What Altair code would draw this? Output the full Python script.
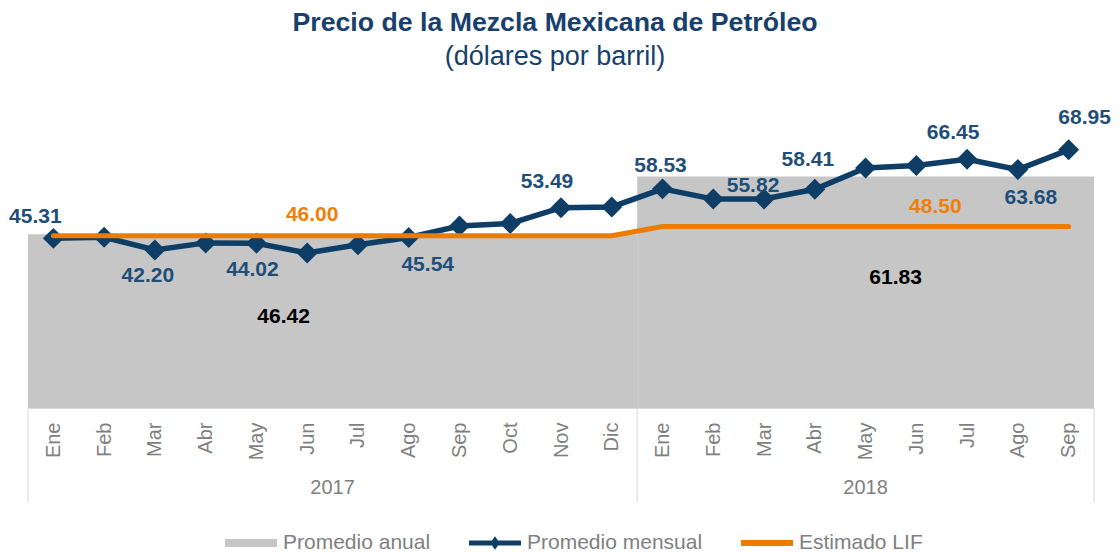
import json
import altair as alt
import pandas as pd

# ---------------- data ----------------
months = ["Ene", "Feb", "Mar", "Abr", "May", "Jun", "Jul", "Ago", "Sep", "Oct", "Nov", "Dic"]
years = ["2017", "2018"]
mensual_2017 = [45.31, 45.60, 42.20, 44.10, 44.02, 41.40, 43.60, 45.54, 48.60, 49.30, 53.49, 53.70]
mensual_2018 = [58.53, 55.80, 55.82, 58.41, 64.10, 64.80, 66.45, 63.68, 68.95]
promedio_anual = [46.42, 61.83]
estimado_lif = [46.00, 48.50]
series_names = ["Promedio anual", "Promedio mensual", "Estimado LIF"]

# ---------------- styles ----------------
FONT = "Liberation Sans"
GRAY_FILL = "#C6C6C6"
NAVY = "#0E3D66"
NAVY_TXT = "#1F4E79"
ORANGE = "#EE7B00"
ORANGE_TXT = "#F07F0A"
AXIS_TXT = "#7F7F7F"
GRID = "#D9D9D9"
W, H = 1066, 307

# label offsets (dx, dy) keyed by point
off_mensual = {
    "2017-Ene": (-18, -21), "2017-Mar": (-7, 26), "2017-May": (-4, 27),
    "2017-Ago": (19, 27), "2017-Nov": (-14, -26), "2018-Ene": (-2, -23),
    "2018-Mar": (-11, -13), "2018-Abr": (-7, -29), "2018-Jul": (-14, -26),
    "2018-Ago": (13, 28), "2018-Sep": (16, -32),
}
off_lif = {"2017-Jun": (5, -21), "2018-Jun": (19, -19)}
off_avg = {"2017": (-49, 83), "2018": (30, 101)}

# ---------------- tables ----------------
rows = []
i = 0
for yr, vals, lif in zip(years, [mensual_2017, mensual_2018], estimado_lif):
    for m, v in zip(months, vals):
        rows.append({"idx": i, "year": yr, "month": m, "key": f"{yr}-{m}",
                     "mensual": v, "lif": lif})
        i += 1
df = pd.DataFrame(rows)
month_labels = df["month"].tolist()

ydf = df.groupby("year")["idx"].agg(["min", "max"]).reset_index()
ydf["x0"] = ydf["min"] - 0.5
ydf["x1"] = ydf["max"] + 0.5
ydf["mid"] = (ydf["min"] + ydf["max"]) / 2
ydf["avg"] = promedio_anual
ydf["zero"] = 0.0
bdf = pd.DataFrame({"b": sorted(set(ydf["x0"]) | set(ydf["x1"]))})
legdf = pd.DataFrame({"serie": series_names})

xscale = alt.Scale(domain=[-0.5, len(df) - 0.5], nice=False, zero=False)
yscale = alt.Scale(domain=[0, 82], nice=False, zero=False)

xaxis = alt.Axis(
    values=list(range(len(df))),
    labelExpr=f"{json.dumps(month_labels)}[datum.value]",
    labelAngle=270, labelAlign="right", labelBaseline="middle",
    labelPadding=14, labelFontSize=20, labelFont=FONT, labelColor=AXIS_TXT,
    ticks=False, tickSize=0, domainColor=GRID, domainWidth=1, grid=False,
    title=None, labelOverlap=False, labelFlush=False, labelBound=False,
)


def X(field):
    return alt.X(f"{field}:Q", scale=xscale, axis=xaxis)


def Y(field):
    return alt.Y(f"{field}:Q", scale=yscale, axis=None)


layers = []

# gray annual average blocks
layers.append(
    alt.Chart(ydf).mark_rect(color=GRAY_FILL).encode(
        x=X("x0"), x2="x1:Q", y=Y("avg"), y2="zero:Q"
    )
)

# monthly line + diamonds
layers.append(
    alt.Chart(df).mark_line(color=NAVY, strokeWidth=5.5).encode(x=X("idx"), y=Y("mensual"))
)
layers.append(
    alt.Chart(df).mark_point(shape="diamond", filled=True, size=440, color=NAVY, opacity=1).encode(
        x=X("idx"), y=Y("mensual")
    )
)

# LIF line
layers.append(
    alt.Chart(df).mark_line(color=ORANGE, strokeWidth=5, strokeCap="round").encode(
        x=X("idx"), y=Y("lif")
    )
)

# monthly labels
for k, (dx, dy) in off_mensual.items():
    layers.append(
        alt.Chart(df).transform_filter(alt.datum.key == k).mark_text(
            dx=dx, dy=dy, font=FONT, fontSize=21, fontWeight="bold", color=NAVY_TXT,
            align="center", baseline="middle"
        ).encode(x=X("idx"), y=Y("mensual"), text=alt.Text("mensual:Q", format=".2f"))
    )

# LIF labels
for k, (dx, dy) in off_lif.items():
    layers.append(
        alt.Chart(df).transform_filter(alt.datum.key == k).mark_text(
            dx=dx, dy=dy, font=FONT, fontSize=21, fontWeight="bold", color=ORANGE_TXT,
            align="center", baseline="middle"
        ).encode(x=X("idx"), y=Y("lif"), text=alt.Text("lif:Q", format=".2f"))
    )

# annual average labels
for k, (dx, dy) in off_avg.items():
    layers.append(
        alt.Chart(ydf).transform_filter(alt.datum.year == k).mark_text(
            dx=dx, dy=dy, font=FONT, fontSize=21, fontWeight="bold", color="#000000",
            align="center", baseline="middle"
        ).encode(x=X("mid"), y=Y("avg"), text=alt.Text("avg:Q", format=".2f"))
    )

# year labels and separators under the axis
layers.append(
    alt.Chart(ydf).mark_text(font=FONT, fontSize=20, color=AXIS_TXT, align="center",
                             baseline="middle").encode(
        x=X("mid"), y=alt.value(H + 80), text="year:N"
    )
)
layers.append(
    alt.Chart(bdf).mark_rule(color=GRID, strokeWidth=1).encode(
        x=X("b"), y=alt.value(H), y2=alt.value(H + 94)
    )
)

# legend
paths = [
    "M-1,-0.154L1,-0.154L1,0.154L-1,0.154Z",
    "M-1,-0.096L1,-0.096L1,0.096L-1,0.096Z M0,-0.26L0.18,0L0,0.26L-0.18,0Z",
    "M-1,-0.115L1,-0.115L1,0.115L-1,0.115Z",
]
leg = alt.Legend(
    title=None, orient="none", legendX=197, legendY=416, direction="horizontal",
    symbolSize=2700, labelFontSize=21, labelFont=FONT, labelColor=AXIS_TXT,
    labelOffset=6, columnPadding=38, symbolStrokeWidth=0, symbolOpacity=1, labelLimit=400,
)
layers.append(
    alt.Chart(legdf).mark_point(filled=True, opacity=0).encode(
        x=alt.value(0), y=alt.value(0),
        color=alt.Color("serie:N", scale=alt.Scale(domain=series_names,
                                                   range=[GRAY_FILL, NAVY, ORANGE]), legend=leg),
        shape=alt.Shape("serie:N", scale=alt.Scale(domain=series_names, range=paths), legend=leg),
    )
)

chart = alt.layer(*layers).properties(
    width=W, height=H,
    autosize=alt.AutoSizeParams(type="none"),
    padding={"left": 20, "top": 93, "right": 18, "bottom": 144},
    title=alt.TitleParams(
        text="Precio de la Mezcla Mexicana de Petróleo",
        subtitle="(dólares por barril)",
        font=FONT, subtitleFont=FONT, fontSize=26.7, subtitleFontSize=27,
        fontWeight="bold", subtitleFontWeight="normal",
        color="#17406D", subtitleColor="#17406D",
        anchor="middle", offset=30, subtitlePadding=8, dx=-6,
    ),
).configure_view(stroke=None)

chart.save("out.html", embed_options={"renderer": "svg", "actions": False})
